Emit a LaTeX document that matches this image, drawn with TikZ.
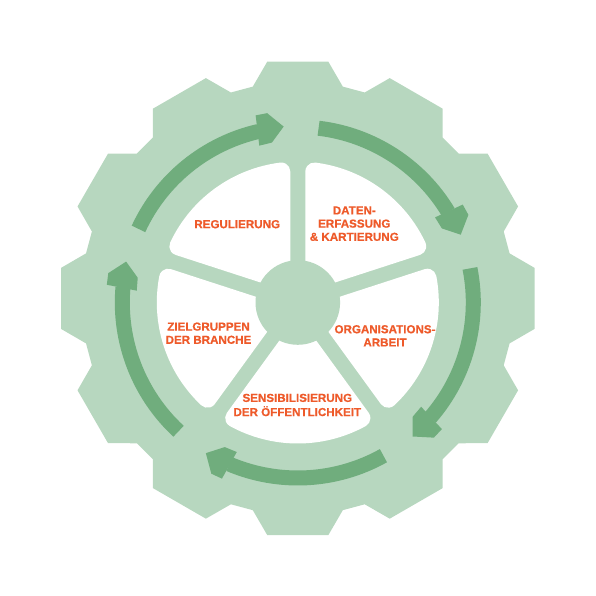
\documentclass[tikz,border=0pt]{standalone}
\usepackage{fontspec}
\setmainfont{Liberation Sans}
\newfontfamily\labfont{Liberation Sans}[BoldFeatures={FakeBold=0.6}]
\definecolor{gearg}{HTML}{B7D7BF}
\definecolor{arrg}{HTML}{70AD7D}
\definecolor{lbl}{HTML}{EE5A2A}
\begin{document}
\begin{tikzpicture}[x=1pt,y=1pt,
  lab/.style={text=lbl, font=\labfont\fontsize{11.6}{13.2}\selectfont\bfseries, align=center, inner sep=0pt},
  shaft/.style={draw=arrg, line width=15pt},
  headtip/.style={fill=arrg},
  seg/.style={fill=white}]
\useasboundingbox (0,0) rectangle (596,596);
\coordinate (G) at (297.8,297.6);
\coordinate (C) at (297.8,293.5);
% gear
\begin{scope}[shift={(G)}]
  \fill[gearg] (-12:216.5) \foreach \t in {0,30,...,330} { -- (\t-12:216.5) -- (\t-7.35:238.7) -- (\t+7.35:238.7) -- (\t+12:216.5) } -- cycle;
\end{scope}
% white segments
\foreach \a in {18,90,162,234,306} {
  \begin{scope}[shift={(C)}, rotate=\a]
    \fill[seg] (0,7.5) -- (130.96,7.5) arc[start angle=-90,end angle=7.18,radius=9]
      arc[start angle=7.18,end angle=64.82,radius=141]
      arc[start angle=64.82,end angle=162,radius=9] -- (-18:7.5) -- (0,0) -- cycle;
  \end{scope}
}
% hub
\fill[gearg] (C) circle[radius=42.3];
% arrows
\foreach \k in {0,...,4} {
  \begin{scope}[shift={(C)}, rotate=-72*\k]
    \draw[shaft] (155.2:175.5) arc[start angle=155.2,end angle=103,radius=175.5];
    \fill[headtip] (94.6:176.5) -- (99.2:191.8) -- (102.7:191.8) -- (103.8:161.5) -- (99.2:162) -- cycle;
  \end{scope}
}
% labels
\node[lab] (reg) at (237.2,371.8) {REGULIERUNG};
\node[lab] (dat) at (354.3,372.3) {DATEN-\\ERFASSUNG\\\& KARTIERUNG};
\node[lab] (ziel) at (208.5,262.8) {ZIELGRUPPEN\\DER BRANCHE};
\node[lab] (org) at (385,260.2) {ORGANISATIONS-\\ARBEIT};
\node[lab] (sens) at (297.3,191) {SENSIBILISIERUNG\\[1pt]DER ÖFFENTLICHKEIT};
\end{tikzpicture}
\end{document}
